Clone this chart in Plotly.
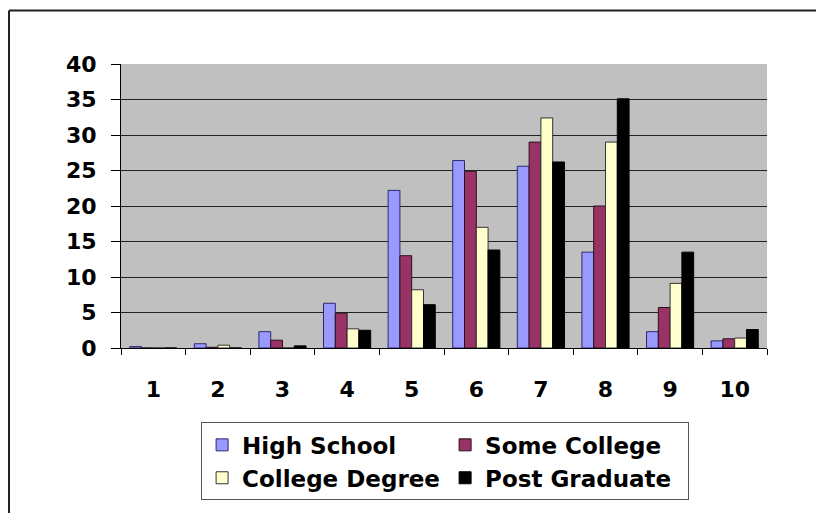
import plotly.graph_objects as go

categories = ["1", "2", "3", "4", "5", "6", "7", "8", "9", "10"]
high_school = [0.2, 0.6, 2.3, 6.3, 22.2, 26.4, 25.6, 13.5, 2.3, 1.0]
some_college = [0, 0.1, 1.1, 4.9, 13.0, 24.9, 29.0, 20.0, 5.7, 1.3]
college_degree = [0, 0.4, 0, 2.7, 8.2, 17.0, 32.4, 29.0, 9.1, 1.4]
post_graduate = [0, 0, 0.3, 2.5, 6.1, 13.8, 26.2, 35.1, 13.5, 2.6]

series = [
    ("High School", high_school, "#9999FF", "#2A2A6A"),
    ("Some College", some_college, "#993366", "#2A1020"),
    ("College Degree", college_degree, "#FFFFCC", "#333333"),
    ("Post Graduate", post_graduate, "#000000", "#000000"),
]

# page body has an 8px margin, so the figure is sized and offset to fit it
fig = go.Figure()
for name, vals, color, edge in series:
    fig.add_trace(go.Bar(x=categories, y=vals, name=name, marker_color=color,
                         marker_line=dict(color=edge, width=1)))

frame_x = -112 / 646
frame_y = 340 / 286
fig.update_layout(
    width=808, height=505,
    margin=dict(l=113, r=49, t=56, b=163),
    barmode="group", bargap=0.27, bargroupgap=0,
    plot_bgcolor="#C0C0C0", paper_bgcolor="white",
    font=dict(family="DejaVu Sans, Arial, sans-serif", size=22, color="black", weight="bold"),
    legend=dict(orientation="h", x=0.124, xanchor="left", y=-0.262, yanchor="top",
                entrywidth=198, entrywidthmode="pixels", itemwidth=30,
                bgcolor="white", bordercolor="#555555", borderwidth=1,
                font=dict(size=23), traceorder="normal"),
    showlegend=True,
    modebar=dict(bgcolor="rgba(0,0,0,0)", color="rgba(0,0,0,0)", activecolor="rgba(0,0,0,0)"),
    shapes=[
        # outer frame: only top and left edges are visible in the original
        dict(type="line", xref="paper", yref="paper", x0=frame_x, x1=695 / 646, y0=frame_y, y1=frame_y,
             line=dict(color="#222222", width=2)),
        dict(type="line", xref="paper", yref="paper", x0=frame_x, x1=frame_x, y0=-0.6, y1=frame_y,
             line=dict(color="#222222", width=2)),
    ],
)
fig.update_xaxes(type="category", tickson="boundaries", ticks="outside", ticklen=6,
                 tickcolor="black", showline=True, linecolor="black", linewidth=1,
                 showgrid=False, ticklabelstandoff=22, tickfont=dict(size=22))
fig.update_yaxes(range=[0, 40], dtick=5, ticks="outside", ticklen=9, tickcolor="black",
                 showline=True, linecolor="black", linewidth=1, gridcolor="#222222",
                 gridwidth=1, zeroline=False, ticklabelstandoff=10, tickfont=dict(size=22))

fig.write_html("out.html")
